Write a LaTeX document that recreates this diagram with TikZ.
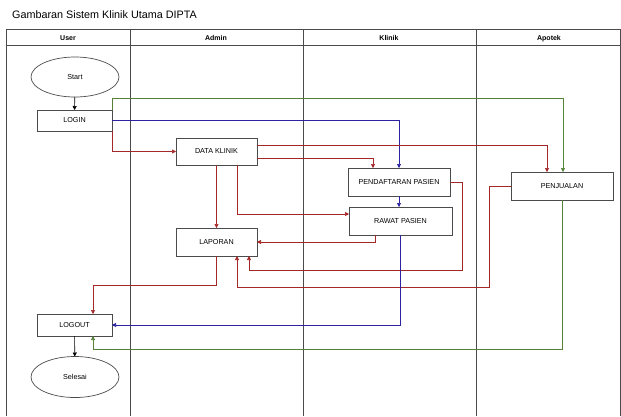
\documentclass[tikz,border=0pt]{standalone}
\usepackage{fontspec}
\setmainfont{Liberation Sans}
\usetikzlibrary{arrows.meta,calc,shapes.geometric}
\definecolor{flowR}{RGB}{165,40,40}
\definecolor{flowB}{RGB}{45,35,160}
\definecolor{flowG}{RGB}{85,130,55}
\definecolor{laneK}{RGB}{75,75,75}

\begin{document}
\begin{tikzpicture}[x=1pt,y=-1pt,>={Triangle[length=4pt,width=4pt]},
  proc/.style={draw=laneK,line width=0.7pt,rectangle,inner sep=0pt,outer sep=0pt,font=\fontsize{7.2}{9}\selectfont},
  term/.style={draw=laneK,line width=0.7pt,ellipse,inner sep=0pt,outer sep=0pt,minimum width=88pt,minimum height=40pt,font=\fontsize{7.2}{9}\selectfont},
  lane/.style={font=\bfseries\fontsize{7}{9}\selectfont,text height=5pt,text depth=1.5pt,inner sep=0pt},
  flow/.style={line width=0.6pt,->}]
\useasboundingbox (0,0) rectangle (621,416);
% swimlanes: user | admin | klinik | apotek
\node[anchor=west,inner sep=0pt,font=\fontsize{10.8}{13}\selectfont] (judul) at (12,15) {Gambaran Sistem Klinik Utama DIPTA};
\draw[laneK,line width=0.8pt] (6,416) -- (6,29) -- (620,29) -- (620,416);
\draw[laneK,line width=0.8pt] (6,45) -- (620,45);
\foreach \x in {130,303,476} \draw[laneK,line width=0.8pt] (\x,29) -- (\x,416);
\node[lane] (hUser) at (68,38.5) {User};
\node[lane] (hAdmin) at (216,38.5) {Admin};
\node[lane] (hKlinik) at (389,38.5) {Klinik};
\node[lane] (hApotek) at (549,38.5) {Apotek};
% nodes
\node[term] (start) at (75,77) {Start};
\node[proc,minimum width=75pt,minimum height=21pt] (login) at (74.5,120.5) {LOGIN};
\node[proc,minimum width=81pt,minimum height=27pt] (dataklinik) at (216.5,151.5) {DATA KLINIK};
\node[proc,minimum width=102pt,minimum height=28pt] (pendaftaran) at (399,182) {PENDAFTARAN PASIEN};
\node[proc,minimum width=103pt,minimum height=28pt] (rawat) at (400.5,221) {RAWAT PASIEN};
\node[proc,minimum width=81pt,minimum height=28pt] (laporan) at (216.5,242) {LAPORAN};
\node[proc,minimum width=102pt,minimum height=28pt] (penjualan) at (562,186) {PENJUALAN};
\node[proc,minimum width=75pt,minimum height=22pt] (logout) at (74.5,325) {LOGOUT};
\node[term,minimum height=41pt] (selesai) at (75,377) {Selesai};
% connectors
\draw[flow,black] (start) -- (login);
\draw[flow,flowR] (login.south east) |- (dataklinik.west);
\draw[flow,flowG] (login.north east) -- ++(0,-12) -| ([xshift=1pt]penjualan.north);
\draw[flow,flowB] (login.east) -| (pendaftaran.north);
\draw[flow,flowR] ([yshift=6.5pt]dataklinik.east) -| ([xshift=-15pt]penjualan.north);
\draw[flow,flowR] ([yshift=-6.5pt]dataklinik.east) -| ([xshift=-26pt]pendaftaran.north);
\draw[flow,flowB] (pendaftaran.south) -- (pendaftaran.south |- rawat.north);
\draw[flow,flowR] (dataklinik.south) -- (laporan.north);
\draw[flow,flowR] ([xshift=20.5pt]dataklinik.south) |- ([yshift=7pt]rawat.west);
\draw[flow,flowR] ([xshift=-25.5pt]rawat.south) |- (laporan.east);
\draw[flow,flowR] (pendaftaran.east) -- ++(12,0) -- ++(0,88) -| ([xshift=32.5pt]laporan.south);
\draw[flow,flowR] (penjualan.west) -- ++(-22,0) -- ++(0,101) -| ([xshift=20.5pt]laporan.south);
\draw[flow,flowR] (laporan.south) -- ++(0,29) -| ([xshift=18.5pt]logout.north);
\draw[flow,flowB] (rawat.south) |- (logout.east);
\draw[flow,flowG] (penjualan.south) -- ++(0,149) -| ([xshift=18.5pt]logout.south);
\draw[flow,black] (logout) -- (selesai);
\end{tikzpicture}
\end{document}
